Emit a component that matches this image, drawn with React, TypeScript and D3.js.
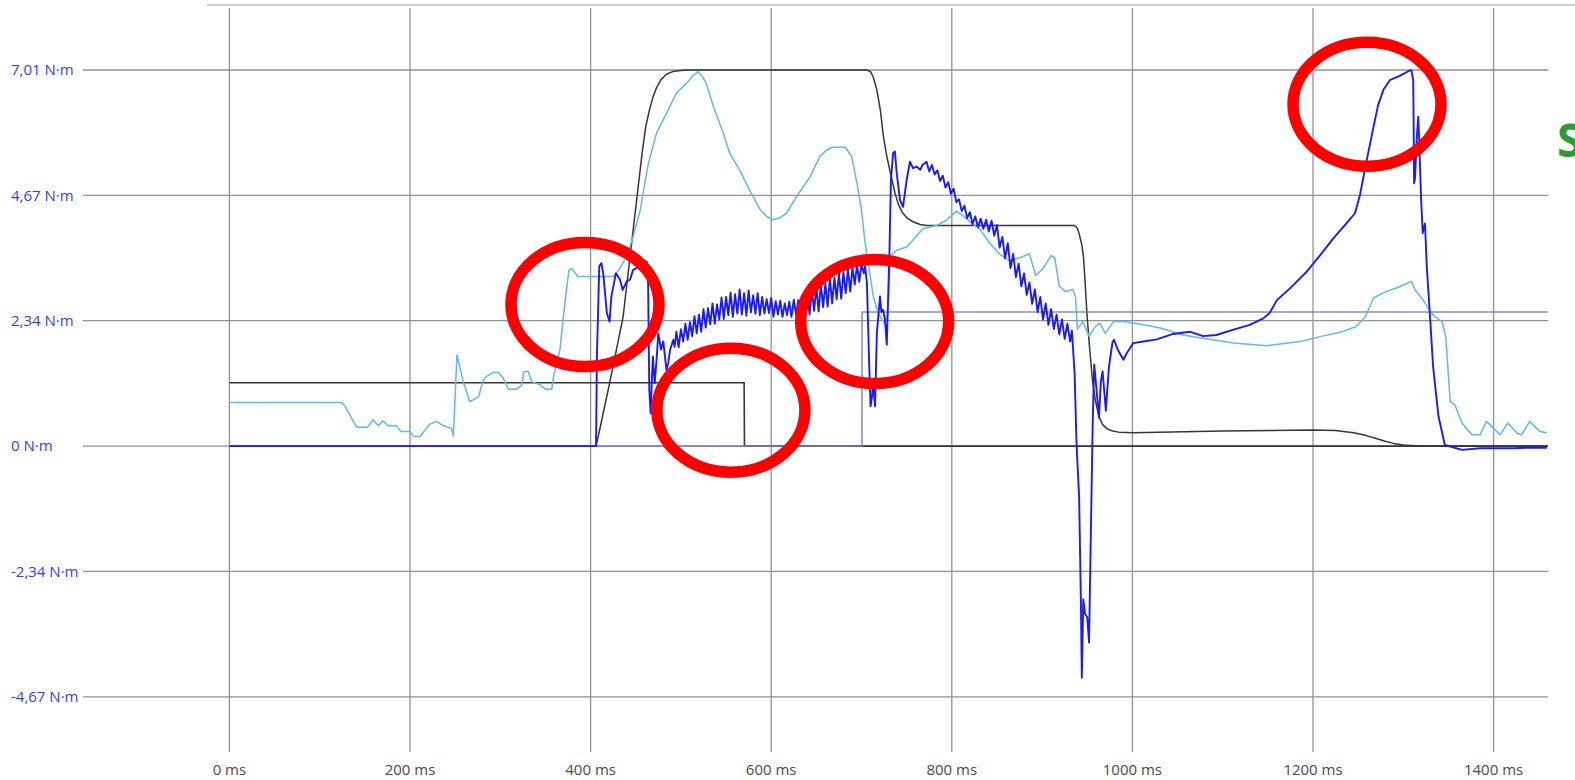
import React from "react";
import * as d3 from "d3";

type P = [number, number];

// ---- axis ticks ----
const xTicks: number[] = [0, 200, 400, 600, 800, 1000, 1200, 1400];
const xTickLabels: string[] = ["0 ms", "200 ms", "400 ms", "600 ms", "800 ms", "1000 ms", "1200 ms", "1400 ms"];
const yTicks: number[] = [-4.67333, -2.33667, 0, 2.33667, 4.67333, 7.01];
const yTickLabels: string[] = ["-4,67 N·m", "-2,34 N·m", "0 N·m", "2,34 N·m", "4,67 N·m", "7,01 N·m"];

// ---- series (ms, N·m) ----
const stepLine: P[] = [[0, 1.18], [570, 1.18], [570.4, 0], [1460, 0]];

const trapezoid: P[] = [
  [406, 0], [410, 0.3], [421, 1.17], [436, 2.41], [451, 4.59], [457, 5.45], [461, 5.95], [465, 6.25],
  [469, 6.5], [473, 6.68], [478, 6.83], [484, 6.93], [491, 6.98], [500, 7.0], [506, 7.01], [706, 7.01],
  [710, 6.98], [713, 6.88], [717, 6.64], [721, 6.25], [724, 5.8], [728, 5.4], [733, 5.02], [737, 4.72],
  [741, 4.5], [745, 4.36], [750, 4.26], [757, 4.18], [765, 4.13], [772, 4.11], [936, 4.11], [939, 4.06],
  [941, 3.96], [944, 3.75], [946, 3.5], [950, 2.38], [953, 1.75], [956, 1.19], [959, 0.85], [963, 0.55],
  [967, 0.4], [972, 0.32], [978, 0.28], [985, 0.26], [1001, 0.25], [1100, 0.28], [1200, 0.30],
  [1225, 0.29], [1245, 0.25], [1258, 0.2], [1270, 0.14], [1280, 0.09], [1289, 0.05], [1300, 0.02],
  [1318, 0.0], [1460, 0],
];

const setpoint: P[] = [[0, 0], [700.5, 0], [700.6, 2.5], [1460, 2.5]];

const lightBlue: P[] = [
  [0, 0.81], [124, 0.81], [128, 0.75], [135, 0.53], [141, 0.35], [153, 0.35], [159, 0.49], [165, 0.38],
  [170, 0.47], [176, 0.38], [185, 0.38], [190, 0.27], [200, 0.27], [204, 0.18], [211, 0.18], [222, 0.41],
  [229, 0.46], [237, 0.38], [246, 0.33], [248, 0.19], [252, 1.70], [259, 1.20], [266, 0.83], [270, 0.86],
  [276, 0.92], [281, 1.23], [285, 1.30], [292, 1.37], [298, 1.37], [303, 1.27], [309, 1.06], [318, 1.06],
  [324, 1.14], [326, 1.39], [331, 1.39], [335, 1.20], [344, 1.14], [350, 1.06], [357, 1.06], [359, 1.30],
  [366, 1.79], [371, 2.6], [376, 3.28], [379, 3.31], [386, 3.16], [425, 3.16], [431, 3.28], [440, 3.53],
  [447, 3.90], [455, 4.40], [460, 4.90], [464, 5.27], [473, 5.83], [484, 6.20], [495, 6.58], [506, 6.76],
  [513, 6.9], [519, 6.98], [524, 6.88], [528, 6.76], [536, 6.33], [547, 5.83], [554, 5.46], [565, 5.15],
  [576, 4.77], [588, 4.40], [595, 4.28], [602, 4.22], [609, 4.25], [617, 4.34], [628, 4.65], [643, 5.02],
  [654, 5.40], [660, 5.5], [667, 5.57], [682, 5.57], [689, 5.40], [695, 4.90], [700, 4.40], [704, 3.78],
  [708, 3.35], [713, 2.80], [717, 2.55], [721, 2.40], [725, 2.30], [729, 2.45], [732, 3.55], [739, 3.65],
  [750, 3.71], [757, 3.84], [768, 4.05], [783, 4.11], [794, 4.21], [805, 4.38], [812, 4.30], [820, 4.18],
  [831, 4.05], [842, 3.78], [853, 3.58], [864, 3.45], [875, 3.51], [886, 3.58], [893, 3.18], [901, 3.31],
  [910, 3.55], [914, 3.51], [919, 2.98], [926, 2.88], [934, 2.92], [937, 2.78], [939, 2.18], [945, 2.32],
  [952, 2.05], [960, 2.25], [964, 2.29], [970, 2.10], [979, 2.32], [990, 2.32], [1012, 2.26], [1031, 2.20],
  [1056, 2.07], [1078, 2.01], [1112, 1.92], [1149, 1.87], [1186, 1.95], [1208, 2.04], [1230, 2.12],
  [1248, 2.23], [1258, 2.41], [1267, 2.76], [1278, 2.86], [1296, 2.97], [1309, 3.07], [1313, 2.91],
  [1322, 2.72], [1330, 2.51], [1335, 2.41], [1343, 2.32], [1347, 2.04], [1350, 1.30], [1352, 0.83],
  [1357, 0.77], [1365, 0.43], [1376, 0.21], [1385, 0.21], [1392, 0.46], [1400, 0.33], [1407, 0.21],
  [1416, 0.43], [1426, 0.24], [1431, 0.21], [1440, 0.46], [1451, 0.27], [1459, 0.25],
];

const blueOnset: P[] = [
  [0, 0], [406, 0], [407, 1.67], [409.6, 3.35], [412, 3.41], [414, 3.22], [418, 2.48], [421, 2.32],
  [423, 2.79], [428, 3.22], [432.6, 3.10], [435.5, 2.91], [440, 3.07], [443.6, 3.10], [447, 3.28],
  [451, 3.32], [456.6, 3.41], [462, 3.44], [463.5, 3.30], [465, 1.05], [466.5, 0.61], [468, 1.30],
  [469, 1.67], [471, 1.17], [473, 1.60], [475, 2.10], [478, 1.80], [480.5, 1.95], [484, 1.42],
  [486, 1.55], [488, 1.79], [491.6, 1.98], [493, 1.85],
];

const blueRippleA: P[] = [
  [495, 2.13], [497.5, 1.84], [500, 2.18], [502.5, 1.95], [505, 2.28], [507.5, 1.98], [510, 2.31],
  [512.5, 2.05], [515, 2.42], [517.5, 2.10], [520, 2.45], [522.5, 2.13], [525, 2.55], [527.5, 2.21],
  [530, 2.57], [532.5, 2.27], [535, 2.66], [537.5, 2.28], [540, 2.64], [542.5, 2.36], [545, 2.77],
  [547.5, 2.37], [550, 2.78], [552.5, 2.44], [555, 2.86], [557.5, 2.41], [560, 2.83], [562.5, 2.47],
  [565, 2.92], [567.5, 2.45], [570, 2.85], [572.5, 2.43], [575, 2.90], [577.5, 2.49], [580, 2.81],
  [582.5, 2.47], [585, 2.85], [587.5, 2.44], [590, 2.78], [592.5, 2.47], [595, 2.74], [597.5, 2.48],
  [600, 2.76], [602.5, 2.41], [605, 2.70], [607.5, 2.45], [610, 2.71], [612.5, 2.41], [615, 2.66],
  [617.5, 2.44], [620, 2.69], [622.5, 2.41], [625, 2.73], [627.5, 2.45], [630, 2.72], [632.5, 2.42],
  [635, 2.82], [637.5, 2.46], [640, 2.83], [642.5, 2.45], [645, 2.92], [647.5, 2.52], [650, 2.97],
  [652.5, 2.51], [655, 3.01], [657.5, 2.59], [660, 3.03], [662.5, 2.60], [665, 3.13], [667.5, 2.66],
  [670, 3.14], [672.5, 2.74], [675, 3.22], [677.5, 2.75], [680, 3.24], [682.5, 2.85], [685, 3.30],
  [687.5, 2.88], [690, 3.33], [692.5, 3.01], [695, 3.38], [697.5, 3.06], [700, 3.39], [702.5, 3.22],
  [704, 3.35],
];

const blueMid: P[] = [
  [706, 3.04], [708.6, 1.48], [710, 0.74], [711.5, 0.9], [713, 1.17], [715, 0.74], [717, 2.10],
  [720.5, 2.79], [722, 2.5], [724, 2.54], [726, 2.35], [728, 1.89], [731, 3.66], [732.6, 4.96],
  [735, 5.46], [737, 5.49], [739, 5.09], [742.6, 4.59], [746, 4.46], [750, 4.96], [753.7, 5.30],
  [757, 5.18], [761, 5.21], [765, 5.15], [768, 5.25],
];

const blueRippleB: P[] = [
  [772, 5.30], [775, 5.12], [778, 5.24], [781, 5.06], [784, 5.14], [787, 4.94], [790, 5.04], [793, 4.82],
  [796, 4.92], [799, 4.70], [802, 4.80], [805, 4.55], [808, 4.60], [811, 4.38], [814, 4.48], [817, 4.25],
  [820, 4.36], [823, 4.14], [826, 4.28], [829, 4.08], [832, 4.24], [835, 4.05], [838, 4.22], [841, 4.00],
  [844, 4.20], [847, 3.92], [850, 4.12], [853, 3.70], [856, 3.90], [859, 3.50], [862, 3.78], [865, 3.32],
  [868, 3.58], [871, 3.15], [874, 3.40], [877, 2.98], [880, 3.22], [883, 2.82], [886, 3.05], [889, 2.65],
  [892, 2.92], [895, 2.50], [898, 2.78], [901, 2.36], [904, 2.66], [907, 2.26], [910, 2.55], [913, 2.18],
  [916, 2.45], [919, 2.08], [922, 2.36], [925, 2.00], [928, 2.28], [931, 1.95], [933, 2.15],
];

const blueTail: P[] = [
  [936, 1.36], [938, 0.12], [939, -0.27], [941, -0.94], [943, -2.93], [944, -4.32], [945.6, -2.86],
  [947.7, -3.13], [950, -3.19], [952, -3.66], [954, -1.61], [956, 0.39], [957.7, 1.52], [960, 1.10],
  [963, 0.53], [965, 1.2], [967, 1.39], [970.6, 0.66], [972, 1.0], [974, 1.47], [978, 1.94],
  [979.6, 1.98], [984, 1.79], [990, 1.61], [993.7, 1.73], [1001, 1.92], [1012, 1.95], [1027, 1.99],
  [1045, 2.09], [1064, 2.13], [1078.5, 2.05], [1093, 2.07], [1112, 2.17], [1130, 2.26], [1145, 2.38],
  [1152, 2.48], [1160, 2.72], [1174.5, 2.94], [1193, 3.25], [1208, 3.56], [1222.5, 3.87], [1237, 4.15],
  [1246.5, 4.34], [1252, 4.68], [1259.5, 5.33], [1267, 5.95], [1272, 6.35], [1278, 6.64], [1285, 6.82],
  [1296, 6.90], [1307, 7.00], [1309, 7.0], [1311, 6.82], [1312, 4.90], [1313, 5.0], [1315, 5.77],
  [1316.6, 6.14], [1318, 5.5], [1319.6, 4.65], [1321.5, 3.97], [1324, 4.15], [1326, 3.35], [1329.6, 2.41],
  [1333, 1.48], [1339, 0.55], [1346, 0.02], [1365, -0.07], [1385, -0.04], [1422, -0.04], [1440, -0.03],
  [1459, -0.03],
];

const blueSeries: P[] = [...blueOnset, ...blueRippleA, ...blueMid, ...blueRippleB, ...blueTail];

// annotation ellipse centres (ms, N·m)
const markers: P[] = [[393.8, 2.64], [555.4, 0.67], [714.6, 2.32], [1259.8, 6.37]];

export default function App() {
  const W = 1575, H = 780;
  const plotL = 83, plotR = 1548, plotT = 8, plotB = 752;
  const x = d3.scaleLinear().domain([0, 1400]).range([229.4, 1493.6]);
  const y = d3.scaleLinear().domain([-4.67333, 7.01]).range([696.8, 70]);
  const line = d3.line<P>().x((d) => x(d[0])).y((d) => y(d[1])).curve(d3.curveLinear);
  const font = "'Open Sans', 'Noto Sans', sans-serif";

  return (
    <svg width={W} height={H} style={{ position: "fixed", left: 0, top: 0, background: "#fff" }}>
      <rect x={0} y={0} width={W} height={H} fill="#fff" />
      <line x1={207} x2={W} y1={5} y2={5} stroke="#a0a0a0" strokeWidth={1.2} />
      {/* grid */}
      {yTicks.map((t, i) => (
        <line key={"gy" + i} x1={plotL} x2={plotR} y1={y(t)} y2={y(t)} stroke="#929292" strokeWidth={1.3} />
      ))}
      {xTicks.map((t, i) => (
        <line key={"gx" + i} x1={x(t)} x2={x(t)} y1={plotT} y2={plotB} stroke="#929292" strokeWidth={1.3} />
      ))}
      {/* labels */}
      {yTicks.map((t, i) => (
        <text key={"ly" + i} x={11} y={y(t)} dy="0.36em" fill="#3a3aff" fontSize={15} fontFamily={font}>
          {yTickLabels[i]}
        </text>
      ))}
      {xTicks.map((t, i) => (
        <text key={"lx" + i} x={x(t)} y={775} textAnchor="middle" fill="#4a4a4a" fontSize={15} fontFamily={font}>
          {xTickLabels[i]}
        </text>
      ))}
      {/* series */}
      <path d={line(stepLine) || ""} fill="none" stroke="#363636" strokeWidth={1.6} />
      <path d={line(trapezoid) || ""} fill="none" stroke="#363636" strokeWidth={1.5} strokeLinejoin="round" />
      <path d={line(setpoint) || ""} fill="none" stroke="#7878c8" strokeOpacity={0.85} strokeWidth={1.6} />
      <path d={line(lightBlue) || ""} fill="none" stroke="#62b6f2" strokeWidth={1.5} strokeLinejoin="round" />
      <path d={line(blueSeries) || ""} fill="none" stroke="#1a1aff" strokeWidth={1.9} strokeLinejoin="round" />
      {/* annotations */}
      {markers.map((m, i) => (
        <ellipse key={"m" + i} cx={x(m[0])} cy={y(m[1])} rx={74} ry={62} fill="none" stroke="#ff0000" strokeWidth={11.5} />
      ))}
      <text x={1557} y={157} fill="#2e9a36" fontSize={46} fontWeight="bold" fontFamily={font}>S</text>
    </svg>
  );
}
